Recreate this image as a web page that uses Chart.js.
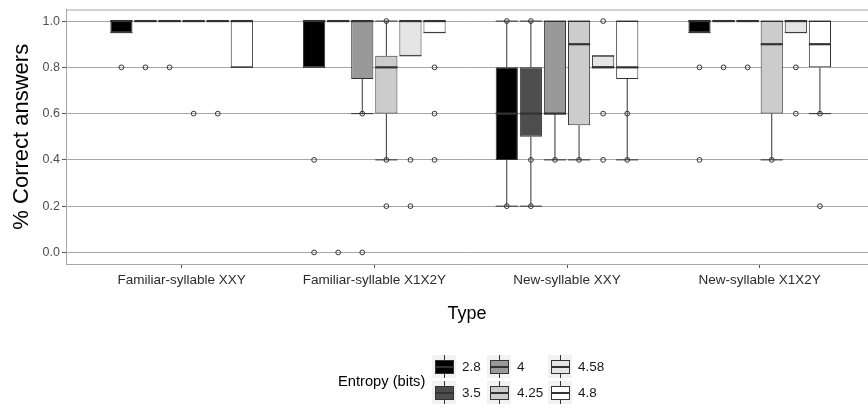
<!DOCTYPE html>
<html><head><meta charset="utf-8">
<script src="https://cdn.jsdelivr.net/npm/chart.js@4/dist/chart.umd.min.js"></script>
<style>
html,body{margin:0;padding:0;background:#fff;}
#wrap{position:relative;width:868px;height:410px;overflow:hidden;font-family:"Liberation Sans",Arial,sans-serif;}
#c{position:absolute;left:0;top:0;}
#legend{position:absolute;left:0;top:0;width:868px;height:410px;pointer-events:none;}
.lt{position:absolute;white-space:nowrap;color:#000;line-height:1;}
.key{position:absolute;width:24px;height:23px;background:#f2f2f2;}
.key .wh{position:absolute;left:11.5px;top:0;width:1px;height:23px;background:#333;}
.key .bx{position:absolute;left:3px;top:5px;width:17px;height:12px;border:1px solid #333;}
.key .md{position:absolute;left:3px;top:10.5px;width:19px;height:2px;background:#333;}
</style></head>
<body>
<div id="wrap">
<canvas id="c" width="868" height="410"></canvas>
<div id="legend"></div>
</div>
<script>
// ---- data ----
const categories = ['Familiar-syllable XXY','Familiar-syllable X1X2Y','New-syllable XXY','New-syllable X1X2Y'];
const entropyLevels = ['2.8','3.5','4','4.25','4.58','4.8'];
const fillColors = ['#000000','#4d4d4d','#999999','#cccccc','#e5e5e5','#ffffff'];
const yTicks = [0.0,0.2,0.4,0.6,0.8,1.0];
// rows: entropy level; columns: category
const q1 = [
  [0.95,0.80,0.40,0.95],
  [1.00,1.00,0.50,1.00],
  [1.00,0.75,0.60,1.00],
  [1.00,0.60,0.55,0.60],
  [1.00,0.85,0.80,0.95],
  [0.80,0.95,0.75,0.80]
];
const median = [
  [1.00,1.00,0.60,1.00],
  [1.00,1.00,0.60,1.00],
  [1.00,1.00,0.60,1.00],
  [1.00,0.80,0.90,0.90],
  [1.00,1.00,0.80,1.00],
  [1.00,1.00,0.80,0.90]
];
const q3 = [
  [1.00,1.00,0.80,1.00],
  [1.00,1.00,0.80,1.00],
  [1.00,1.00,1.00,1.00],
  [1.00,0.85,1.00,1.00],
  [1.00,1.00,0.85,1.00],
  [1.00,1.00,1.00,1.00]
];
const whiskerLow = [
  [0.95,0.80,0.20,0.95],
  [1.00,1.00,0.20,1.00],
  [1.00,0.60,0.40,1.00],
  [1.00,0.40,0.40,0.40],
  [1.00,0.85,0.80,0.95],
  [0.80,0.95,0.40,0.60]
];
const whiskerHigh = [
  [1.00,1.00,1.00,1.00],
  [1.00,1.00,1.00,1.00],
  [1.00,1.00,1.00,1.00],
  [1.00,1.00,1.00,1.00],
  [1.00,1.00,0.85,1.00],
  [1.00,1.00,1.00,1.00]
];
const points = [
  [[0.8],[0.4,0.0],[1.0,0.2],[0.8,0.4]],
  [[0.8],[0.0],[1.0,0.4,0.2],[0.8]],
  [[0.8],[0.6,0.0],[0.4],[0.8]],
  [[0.6],[1.0,0.4,0.2],[0.4],[0.4]],
  [[0.6],[0.4,0.2],[1.0,0.6,0.4],[0.8,0.6]],
  [[],[0.8,0.6,0.4],[0.6,0.4],[0.6,0.2]]
];

const FONT = '"Liberation Sans", Arial, sans-serif';
Chart.defaults.font.family = FONT;

const datasets = entropyLevels.map((lvl, i) => ({
  label: lvl,
  data: categories.map((c, j) => ({ x: j + 1, y: [q1[i][j], q3[i][j]] })),
  backgroundColor: fillColors[i],
  borderColor: '#333333',
  borderWidth: 1,
  borderSkipped: false
}));

const boxPlugin = {
  id: 'boxExtras',
  beforeDatasetsDraw(chart) {
    const { ctx, chartArea: a } = chart;
    ctx.save();
    ctx.strokeStyle = '#a6a6a6';
    ctx.lineWidth = 1;
    ctx.beginPath();
    ctx.moveTo(a.left, a.top + 0.5);
    ctx.lineTo(a.right, a.top + 0.5);
    ctx.stroke();
    ctx.restore();
  },
  afterDatasetsDraw(chart) {
    const ctx = chart.ctx;
    const ys = chart.scales.y;
    const py = v => ys.getPixelForValue(v);
    ctx.save();
    ctx.strokeStyle = '#333333';
    const line = (x1, y1, x2, y2, w) => {
      ctx.lineWidth = w;
      ctx.beginPath(); ctx.moveTo(x1, y1); ctx.lineTo(x2, y2); ctx.stroke();
    };
    entropyLevels.forEach((lvl, i) => {
      const meta = chart.getDatasetMeta(i);
      meta.data.forEach((el, j) => {
        const x = el.x, hw = el.width / 2;
        if (whiskerHigh[i][j] > q3[i][j]) line(x, py(q3[i][j]), x, py(whiskerHigh[i][j]), 1);
        if (whiskerLow[i][j] < q1[i][j]) line(x, py(q1[i][j]), x, py(whiskerLow[i][j]), 1);
        line(x - hw, py(whiskerHigh[i][j]), x + hw, py(whiskerHigh[i][j]), 1);
        line(x - hw, py(whiskerLow[i][j]), x + hw, py(whiskerLow[i][j]), 1);
        line(x - hw, py(median[i][j]), x + hw, py(median[i][j]), 2.2);
        ctx.lineWidth = 1;
        points[i][j].forEach(v => {
          ctx.beginPath();
          ctx.arc(x, py(v), 2.4, 0, Math.PI * 2);
          ctx.stroke();
        });
      });
    });
    ctx.restore();
  }
};

new Chart(document.getElementById('c'), {
  type: 'bar',
  data: { datasets },
  plugins: [boxPlugin],
  options: {
    responsive: false,
    animation: false,
    devicePixelRatio: 1,
    layout: { padding: { left: 0, right: 0, top: 7, bottom: 82 } },
    plugins: { legend: { display: false }, tooltip: { enabled: false } },
    datasets: { bar: { categoryPercentage: 0.75, barPercentage: 0.92 } },
    scales: {
      x: {
        type: 'linear', min: 0.4, max: 4.562, offset: false,
        afterBuildTicks: s => { s.ticks = categories.map((c, i) => ({ value: i + 1 })); },
        afterFit: s => { s.height = 64; },
        ticks: { callback: v => categories[Math.round(v) - 1], color: '#2b2b2b', font: { size: 13.5 }, padding: 4, maxRotation: 0, autoSkip: false },
        grid: { display: true, offset: false, drawOnChartArea: false, drawTicks: true, tickLength: 4, tickColor: '#555555' },
        border: { display: true, color: '#a6a6a6' },
        title: { display: true, text: 'Type', color: '#000', font: { size: 18 }, padding: { top: 0, bottom: 3 } }
      },
      y: {
        min: -0.05, max: 1.05,
        afterBuildTicks: s => { s.ticks = yTicks.map(v => ({ value: v })); },
        afterFit: s => { s.width = 66; },
        ticks: { callback: v => Number(v).toFixed(1), color: '#4d4d4d', font: { size: 12.5 }, padding: 2 },
        grid: { color: '#a6a6a6', tickLength: 4, tickColor: '#555555' },
        border: { display: true, color: '#a6a6a6' },
        title: { display: true, text: '% Correct answers', color: '#000', font: { size: 22 }, padding: { top: 9, bottom: 0 } }
      }
    }
  }
});

// ---- legend (HTML) ----
const lg = document.getElementById('legend');
const lt = document.createElement('div');
lt.className = 'lt'; lt.textContent = 'Entropy (bits)';
lt.style.left = '338px'; lt.style.top = '374px'; lt.style.fontSize = '14.7px';
lg.appendChild(lt);
const colX = [432, 487, 548];
const rowY = [355, 381];
entropyLevels.forEach((lvl, i) => {
  const col = Math.floor(i / 2), row = i % 2;
  const k = document.createElement('div');
  k.className = 'key';
  k.style.left = colX[col] + 'px'; k.style.top = rowY[row] + 'px';
  k.innerHTML = '<div class="wh"></div><div class="bx" style="background:' + fillColors[i] + '"></div><div class="md"></div>';
  lg.appendChild(k);
  const t = document.createElement('div');
  t.className = 'lt'; t.textContent = lvl;
  t.style.left = (colX[col] + 30) + 'px'; t.style.top = (rowY[row] + 5) + 'px'; t.style.fontSize = '13.5px'; t.style.color = '#1a1a1a';
  lg.appendChild(t);
});
</script>
</body></html>
